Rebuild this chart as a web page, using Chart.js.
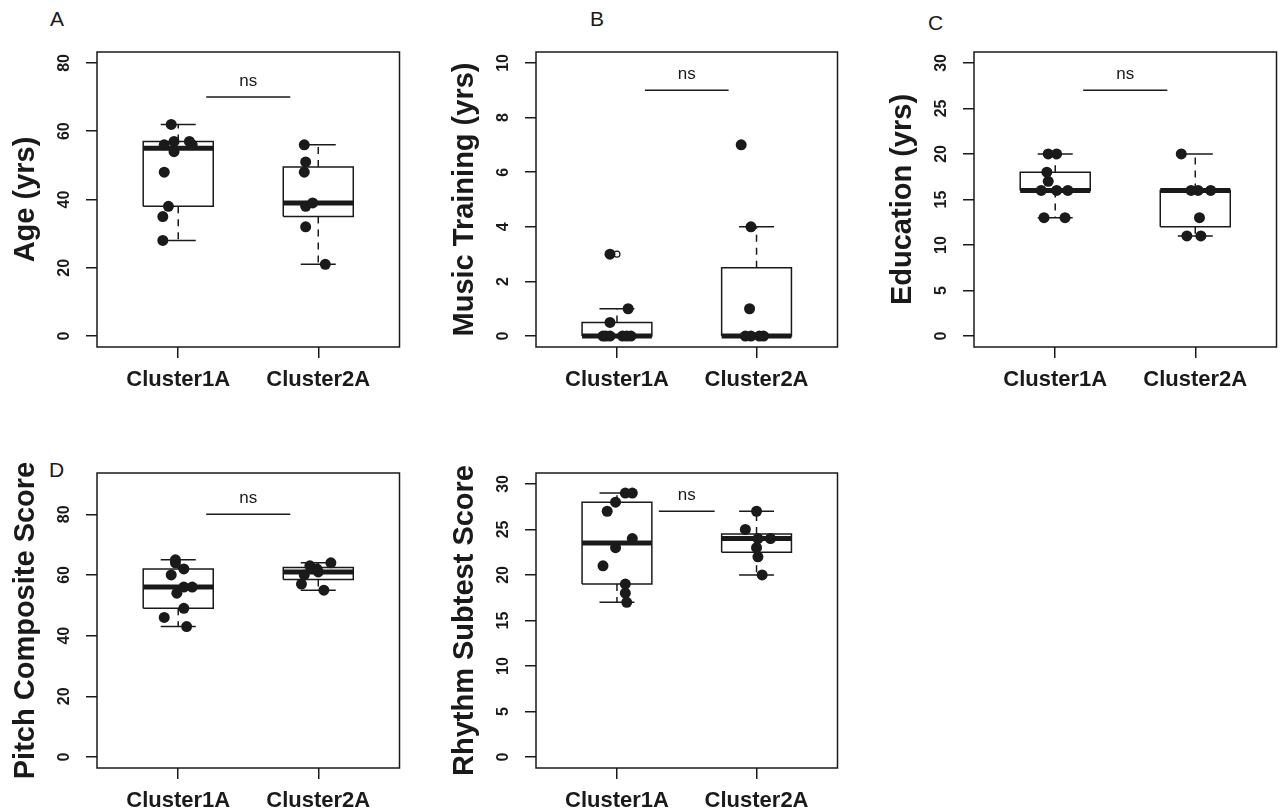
<!DOCTYPE html>
<html>
<head>
<meta charset="utf-8">
<script src="https://cdn.jsdelivr.net/npm/chart.js@4.4.0/dist/chart.umd.min.js"></script>
<style>
    body { margin: 0; background: #fff; width: 1282px; height: 812px; position: relative; overflow: hidden;
           font-family: "Liberation Sans", Arial, sans-serif; }
    .panel { position: absolute; }
    .letra { position: absolute; font-size: 21px; line-height: 1; color: #1a1a1a; }
</style>
</head>
<body>
<div class="letra" style="left:50px;top:8px">A</div>
<div class="letra" style="left:590px;top:8px">B</div>
<div class="letra" style="left:928px;top:12px">C</div>
<div class="letra" style="left:49px;top:459px">D</div>

<div class="panel" style="left:0px;top:0px;width:405px;height:391px"><canvas id="chartA"></canvas></div>
<div class="panel" style="left:439px;top:0px;width:404px;height:391px"><canvas id="chartB"></canvas></div>
<div class="panel" style="left:877px;top:0px;width:405px;height:391px"><canvas id="chartC"></canvas></div>
<div class="panel" style="left:0px;top:421px;width:405px;height:391px"><canvas id="chartD"></canvas></div>
<div class="panel" style="left:439px;top:421px;width:404px;height:391px"><canvas id="chartE"></canvas></div>

<script>
// categorias del eje x
var grupos = ['Cluster1A', 'Cluster2A'];

// A - edad
var edad1 = [62, 57, 57, 56, 56, 54, 48, 38, 35, 28];
var edad1Jit = [-0.05, -0.03, 0.08, 0.10, -0.10, -0.03, -0.10, -0.07, -0.11, -0.11];
var edad2 = [56, 51, 48, 39, 38, 32, 21];
var edad2Jit = [-0.10, -0.09, -0.10, -0.04, -0.09, -0.09, 0.05];
var edadCajas = [[28, 38, 55, 57, 62], [21, 35, 39, 49.5, 56]];   // min, q1, mediana, q3, max
var edadRango = [0, 80];
var edadTicks = [0, 20, 40, 60, 80];

// B - entrenamiento musical
var musica1 = [3, 1, 0.5, 0, 0, 0, 0, 0, 0];
var musica1Jit = [-0.05, 0.08, -0.05, -0.10, -0.05, 0.04, 0.10, 0.07, -0.08];
var musica2 = [7, 4, 1, 0, 0, 0, 0];
var musica2Jit = [-0.11, -0.04, -0.05, -0.08, 0.05, -0.04, 0.02];
var musicaCajas = [[0, 0, 0, 0.5, 1], [0, 0, 0, 2.5, 4]];
var musicaAtipicos = [[3], []];
var musicaRango = [0, 10];
var musicaTicks = [0, 2, 4, 6, 8, 10];

// C - educacion
var educ1 = [20, 20, 18, 17, 16, 16, 16, 13, 13];
var educ1Jit = [-0.05, 0.01, -0.06, -0.05, -0.10, 0.01, 0.09, -0.08, 0.07];
var educ2 = [20, 16, 16, 16, 13, 11, 11];
var educ2Jit = [-0.10, -0.03, 0.11, 0.02, 0.03, -0.06, 0.04];
var educCajas = [[13, 16, 16, 18, 20], [11, 12, 16, 16, 20]];
var educRango = [0, 30];
var educTicks = [0, 5, 10, 15, 20, 25, 30];

// D - pitch composite
var tono1 = [65, 64, 62, 60, 56, 56, 54, 49, 46, 43];
var tono1Jit = [-0.02, -0.02, 0.04, -0.05, 0.04, 0.10, -0.01, 0.04, -0.10, 0.06];
var tono2 = [64, 63, 62, 61, 60, 57, 55];
var tono2Jit = [0.09, -0.06, -0.01, 0.00, -0.10, -0.12, 0.04];
var tonoCajas = [[43, 49, 56, 62, 65], [55, 58.5, 61, 62.5, 64]];
var tonoRango = [0, 90];
var tonoTicks = [0, 20, 40, 60, 80];

// E - rhythm subtest
var ritmo1 = [29, 29, 28, 27, 24, 23, 21, 19, 18, 17];
var ritmo1Jit = [0.06, 0.11, -0.01, -0.07, 0.11, -0.01, -0.10, 0.06, 0.06, 0.07];
var ritmo2 = [27, 25, 24, 24, 23, 22, 20];
var ritmo2Jit = [0.00, -0.08, 0.10, 0.01, 0.00, 0.01, 0.04];
var ritmoCajas = [[17, 19, 23.5, 28, 29], [20, 22.5, 24, 24.5, 27]];
var ritmoRango = [0, 30];
var ritmoTicks = [0, 5, 10, 15, 20, 25, 30];

// lineas "ns": [y, x desde, x hasta]
var nsA = [70, 1.2, 1.8];
var nsB = [9, 1.2, 1.8];
var nsC = [27, 1.2, 1.8];
var nsD = [80, 1.2, 1.8];
var nsE = [27, 1.3, 1.7];

var NEGRO = '#1a1a1a';
var FUENTE = '"Liberation Sans", Arial, sans-serif';
Chart.defaults.font.family = FUENTE;

// marco, etiquetas del eje y giradas y texto ns
var marcoPlugin = {
    id: 'marco',
    afterDraw: function (chart, args, opts) {
        var ctx = chart.ctx, a = chart.chartArea, x = chart.scales.x, y = chart.scales.y;
        ctx.save();
        ctx.strokeStyle = NEGRO;
        ctx.lineWidth = 1.5;
        ctx.strokeRect(a.left, a.top, a.right - a.left, a.bottom - a.top);

        ctx.fillStyle = NEGRO;
        ctx.font = 'bold 16px ' + FUENTE;
        ctx.textAlign = 'center';
        ctx.textBaseline = 'middle';
        y.ticks.forEach(function (t) {
            ctx.save();
            ctx.translate(a.left - 32, y.getPixelForValue(t.value));
            ctx.rotate(-Math.PI / 2);
            ctx.fillText(String(t.value), 0, 0);
            ctx.restore();
        });

        ctx.font = '17px ' + FUENTE;
        ctx.textBaseline = 'alphabetic';
        ctx.fillText('ns', x.getPixelForValue((opts.ns[1] + opts.ns[2]) / 2), y.getPixelForValue(opts.ns[0]) - 11);
        ctx.restore();
    }
};

function lineaDs(data, ancho, dash, orden) {
    return {
        type: 'line', data: data, borderColor: NEGRO, borderWidth: ancho, borderDash: dash || [],
        pointRadius: 0, fill: false, spanGaps: false, tension: 0, order: orden,
        borderCapStyle: 'butt', borderJoinStyle: 'miter'
    };
}

function crearPanel(id, titulo, vals, jits, cajas, atipicos, rango, ticks, ns) {
    var caja = [], bigote = [], tope = [], mediana = [], puntos = [], outs = [];
    cajas.forEach(function (s, i) {
        var cx = i + 1;
        caja.push({x: cx - 0.25, y: s[1]}, {x: cx + 0.25, y: s[1]}, {x: cx + 0.25, y: s[3]},
                  {x: cx - 0.25, y: s[3]}, {x: cx - 0.25, y: s[1]}, {x: cx, y: null});
        bigote.push({x: cx, y: s[3]}, {x: cx, y: s[4]}, {x: cx, y: null},
                    {x: cx, y: s[1]}, {x: cx, y: s[0]}, {x: cx, y: null});
        tope.push({x: cx - 0.125, y: s[4]}, {x: cx + 0.125, y: s[4]}, {x: cx, y: null},
                  {x: cx - 0.125, y: s[0]}, {x: cx + 0.125, y: s[0]}, {x: cx, y: null});
        mediana.push({x: cx - 0.25, y: s[2]}, {x: cx + 0.25, y: s[2]}, {x: cx, y: null});
        vals[i].forEach(function (v, k) {
            puntos.push({x: cx + jits[i][k], y: v});
        });
        (atipicos[i] || []).forEach(function (v) {
            outs.push({x: cx, y: v});
        });
    });
    var pad = 0.04 * (rango[1] - rango[0]);

    new Chart(document.getElementById(id).getContext('2d'), {
        type: 'scatter',
        data: {
            datasets: [
                {data: puntos, pointRadius: 5.5, backgroundColor: NEGRO, borderWidth: 0, order: 0},
                {data: outs, pointRadius: 3, backgroundColor: 'rgba(0,0,0,0)', borderColor: NEGRO, borderWidth: 1.2, order: 1},
                lineaDs(mediana, 5, null, 2),
                lineaDs(caja, 1.5, null, 3),
                lineaDs(tope, 1.5, null, 3),
                lineaDs(bigote, 1.5, [7, 6], 4),
                lineaDs([{x: ns[1], y: ns[0]}, {x: ns[2], y: ns[0]}], 1.5, null, 3)
            ]
        },
        options: {
            responsive: true,
            maintainAspectRatio: false,
            animation: false,
            layout: {padding: {top: 52, right: 3, left: 0, bottom: 0}},
            plugins: {
                legend: {display: false},
                tooltip: {enabled: false},
                marco: {ns: ns}
            },
            scales: {
                x: {
                    type: 'linear', min: 0.42, max: 2.58,
                    afterBuildTicks: function (s) { s.ticks = grupos.map(function (g, i) { return {value: i + 1}; }); },
                    afterFit: function (s) { s.height = 44; },
                    grid: {drawOnChartArea: false, drawTicks: true, tickLength: 11, color: NEGRO, lineWidth: 1.5},
                    border: {display: false},
                    ticks: {
                        callback: function (v, i) { return grupos[i]; },
                        font: {size: 22, weight: 'bold'}, color: NEGRO, padding: 9,
                        maxRotation: 0, autoSkip: false
                    }
                },
                y: {
                    type: 'linear', min: rango[0] - pad, max: rango[1] + pad,
                    afterBuildTicks: function (s) { s.ticks = ticks.map(function (v) { return {value: v}; }); },
                    afterFit: function (s) { s.width = 97; },
                    grid: {drawOnChartArea: false, drawTicks: true, tickLength: 11, color: NEGRO, lineWidth: 1.5},
                    border: {display: false},
                    ticks: {display: false},
                    title: {display: true, text: titulo, color: NEGRO, font: {size: 29, weight: 'bold'}, padding: {top: 9, bottom: 0}}
                }
            }
        },
        plugins: [marcoPlugin]
    });
}

crearPanel('chartA', 'Age (yrs)', [edad1, edad2], [edad1Jit, edad2Jit], edadCajas, [[], []], edadRango, edadTicks, nsA);
crearPanel('chartB', 'Music Training (yrs)', [musica1, musica2], [musica1Jit, musica2Jit], musicaCajas, musicaAtipicos, musicaRango, musicaTicks, nsB);
crearPanel('chartC', 'Education (yrs)', [educ1, educ2], [educ1Jit, educ2Jit], educCajas, [[], []], educRango, educTicks, nsC);
crearPanel('chartD', 'Pitch Composite Score', [tono1, tono2], [tono1Jit, tono2Jit], tonoCajas, [[], []], tonoRango, tonoTicks, nsD);
crearPanel('chartE', 'Rhythm Subtest Score', [ritmo1, ritmo2], [ritmo1Jit, ritmo2Jit], ritmoCajas, [[], []], ritmoRango, ritmoTicks, nsE);
</script>
</body>
</html>
